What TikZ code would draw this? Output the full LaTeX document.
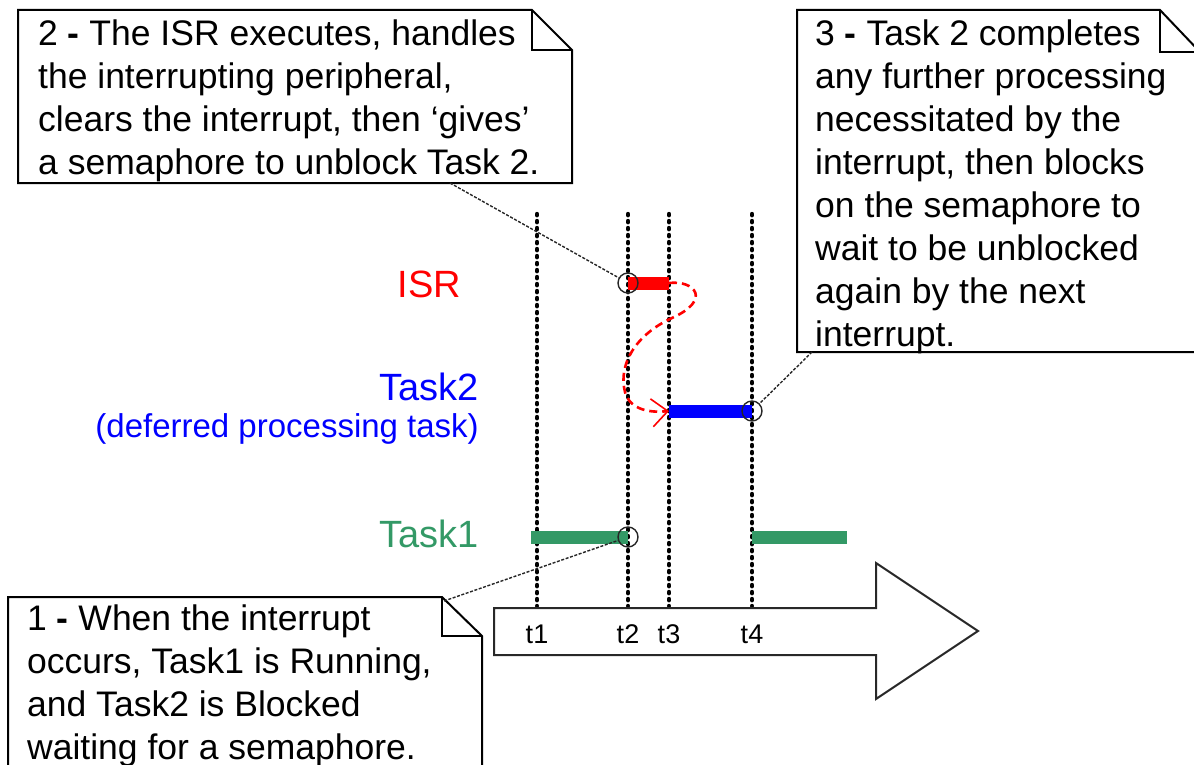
\documentclass[tikz,border=0pt]{standalone}
\usepackage{fontspec}
\setmainfont{Liberation Sans}
\usetikzlibrary{arrows.meta}
\definecolor{taskgreen}{RGB}{51,153,102}
\definecolor{edgegray}{RGB}{40,40,40}
\begin{document}
\begin{tikzpicture}[x=1pt,y=-1pt,
  callout/.style={draw=black, line width=2pt, fill=white, line join=miter},
  foldline/.style={draw=black, line width=2pt},
  note/.style={anchor=north west, inner sep=0pt, align=left, font=\fontsize{35.5}{43}\selectfont},
  timeline/.style={line width=4.4pt, line cap=round, dash pattern=on 1.2pt off 5.8pt},
  bar/.style={line width=13pt},
  probe/.style={circle, draw=black!85, line width=1.4pt, minimum size=20pt, inner sep=0pt},
  pointer/.style={draw=black!85, line width=1.4pt, dash pattern=on 3pt off 1.6pt},
  flow/.style={red, line width=2.6pt, dash pattern=on 8pt off 5pt,
    -{Straight Barb[length=16pt,width=28pt,line width=1.6pt]}},
  rowlabel/.style={anchor=base east, inner sep=0pt, font=\fontsize{38}{44}\selectfont},
  tlabel/.style={anchor=base, inner sep=0pt, font=\fontsize{27}{30}\selectfont},
  bigarrow/.style={draw=edgegray, line width=2pt, fill=white, line join=miter}
]
\useasboundingbox (0,0) rectangle (1194,765);
\clip (0,0) rectangle (1194,765);

% time coordinates
\coordinate (t1top) at (537,214); \coordinate (t1bot) at (537,606);
\coordinate (t2top) at (628,214); \coordinate (t2bot) at (628,606);
\coordinate (t3top) at (669,214); \coordinate (t3bot) at (669,606);
\coordinate (t4top) at (752,214); \coordinate (t4bot) at (752,606);

% dotted time lines
\draw[timeline] (t1top) -- (t1bot);
\draw[timeline] (t2top) -- (t2bot);
\draw[timeline] (t3top) -- (t3bot);
\draw[timeline] (t4top) -- (t4bot);

% bars
\coordinate (isrS) at (628,283); \coordinate (isrE) at (669,283);
\coordinate (tk2S) at (669,411); \coordinate (tk2E) at (752,411);
\coordinate (tk1aS) at (531,537); \coordinate (tk1aE) at (628,537);
\coordinate (tk1bS) at (752,537); \coordinate (tk1bE) at (847,537);
\draw[bar, red] (isrS) -- (isrE);
\draw[bar, blue] (tk2S) -- (tk2E);
\draw[bar, taskgreen] (tk1aS) -- (tk1aE);
\draw[bar, taskgreen] (tk1bS) -- (tk1bE);

% probe circles
\node[probe] (cisr) at (628,283) {};
\node[probe] (ctk2) at (752,411) {};
\node[probe] (ctk1) at (628,537) {};

% red flow arrow ISR -> Task2
\draw[flow] (isrE) .. controls (695,280) and (712,300) .. (672,318)
  .. controls (635,335) and (618,365) .. (625,392)
  .. controls (630,410) and (650,413) .. (tk2S);

% row labels
\node[rowlabel, red] (lisr) at (461,297) {ISR};
\node[rowlabel, blue] (ltk2) at (479,400) {Task2};
\node[anchor=base east, inner sep=0pt, blue, font=\fontsize{33}{38}\selectfont] (ldef) at (479,437) {(deferred processing task)};
\node[rowlabel, taskgreen] (ltk1) at (479,547) {Task1};

% big time arrow
\draw[bigarrow] (494,608) -- (876,608) -- (876,563) -- (978,631) -- (876,699) -- (876,655) -- (494,655) -- cycle;
\node[tlabel] (lt1) at (537,643) {t1};
\node[tlabel] (lt2) at (628,643) {t2};
\node[tlabel] (lt3) at (669,643) {t3};
\node[tlabel] (lt4) at (752,643) {t4};

% callout 2
\draw[callout] (18,10) -- (532,10) -- (572,50) -- (572,183) -- (18,183) -- cycle;
\draw[foldline] (532,10) -- (532,50) -- (572,50);
\node[note] (n2) at (38,19.6) {2 {\bfseries -} The ISR executes, handles\\the interrupting peripheral,\\clears the interrupt, then ‘gives’\\a semaphore to unblock Task 2.};
\coordinate (p2) at (450,183);
\draw[pointer] (p2) -- (cisr);

% callout 3
\draw[callout] (797,10) -- (1160,10) -- (1200,52) -- (1200,352) -- (797,352) -- cycle;
\draw[foldline] (1160,10) -- (1160,52) -- (1200,52);
\node[note] (n3) at (815,19.6) {3 {\bfseries -} Task 2 completes\\any further processing\\necessitated by the\\interrupt, then blocks\\on the semaphore to\\wait to be unblocked\\again by the next\\interrupt.};
\coordinate (p3) at (812,352);
\draw[pointer] (p3) -- (ctk2);

% callout 1
\draw[callout] (8,597) -- (442,597) -- (482,636) -- (482,790) -- (8,790) -- cycle;
\draw[foldline] (442,597) -- (442,636) -- (482,636);
\node[note] (n1) at (27,604.6) {1 {\bfseries -} When the interrupt\\occurs, Task1 is Running,\\and Task2 is Blocked\\waiting for a semaphore.};
\coordinate (p1) at (444,601);
\draw[pointer] (p1) -- (ctk1);
\end{tikzpicture}
\end{document}
